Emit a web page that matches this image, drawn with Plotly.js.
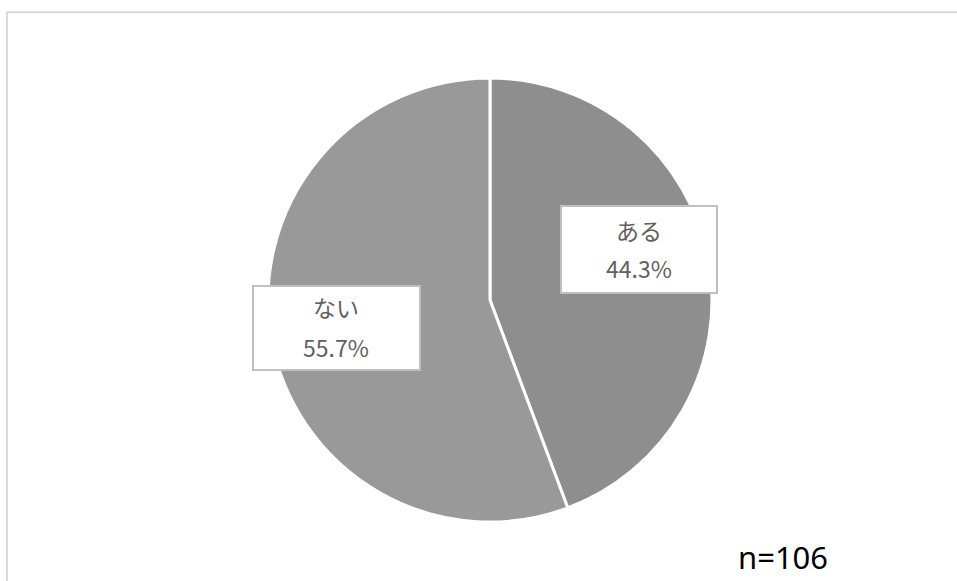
<!DOCTYPE html>
<html><head><meta charset="utf-8">
<script src="https://cdn.plot.ly/plotly-3.0.1.min.js"></script>
<style>html,body{margin:0;padding:0;background:#fff}#chart{width:957px;height:581px}</style>
</head><body><div id="chart"></div>
<script>
const labels = ["ある", "ない"];
const values = [44.3, 55.7];
const sampleSize = 106;
const sliceColors = ["#8e8e8e", "#999999"];

const trace = {
  type: "pie",
  labels: labels,
  values: values,
  sort: false,
  direction: "clockwise",
  rotation: 0,
  textinfo: "none",
  hoverinfo: "label+percent",
  marker: {colors: sliceColors, line: {color: "#ffffff", width: 3}},
  domain: {x: [0.280, 0.744], y: [0.1015, 0.8657]},
  showlegend: false
};

const boxes = [
  {x0: 0.5862, x1: 0.7492, y0: 0.4957, y1: 0.6454, cx: 0.6677, ly: 0.604, vy: 0.539},
  {x0: 0.2644, x1: 0.4389, y0: 0.3632, y1: 0.5077, cx: 0.3516, ly: 0.472, vy: 0.402}
];

const shapes = [{
  type: "rect", xref: "paper", yref: "paper",
  x0: 0.0072, x1: 1.2, y0: -0.2, y1: 0.979,
  line: {color: "#d9d9d9", width: 2}, fillcolor: "rgba(0,0,0,0)", layer: "below"
}];
const annotations = [];
const labFont = {family: "Noto Sans CJK JP, Noto Sans, sans-serif", size: 23, color: "#606060"};
labels.forEach((lab, i) => {
  const b = boxes[i];
  shapes.push({type: "rect", xref: "paper", yref: "paper", x0: b.x0, x1: b.x1, y0: b.y0, y1: b.y1,
    line: {color: "#bfbfbf", width: 2}, fillcolor: "#ffffff", layer: "above"});
  annotations.push({xref: "paper", yref: "paper", x: b.cx, y: b.ly, text: lab, showarrow: false,
    xanchor: "center", yanchor: "middle", font: labFont});
  annotations.push({xref: "paper", yref: "paper", x: b.cx, y: b.vy, text: values[i].toFixed(1) + "%", showarrow: false,
    xanchor: "center", yanchor: "middle", font: labFont});
});
annotations.push({xref: "paper", yref: "paper", x: 0.818, y: 0.002, text: "n=" + sampleSize, showarrow: false,
  xanchor: "center", yanchor: "bottom", font: {family: "Noto Sans, sans-serif", size: 31, color: "#000000"}});

Plotly.newPlot("chart", [trace], {
  width: 957, height: 581,
  margin: {l: 0, r: 0, t: 0, b: 0},
  paper_bgcolor: "#ffffff",
  shapes: shapes,
  annotations: annotations
}, {displayModeBar: false, staticPlot: true});
</script></body></html>
